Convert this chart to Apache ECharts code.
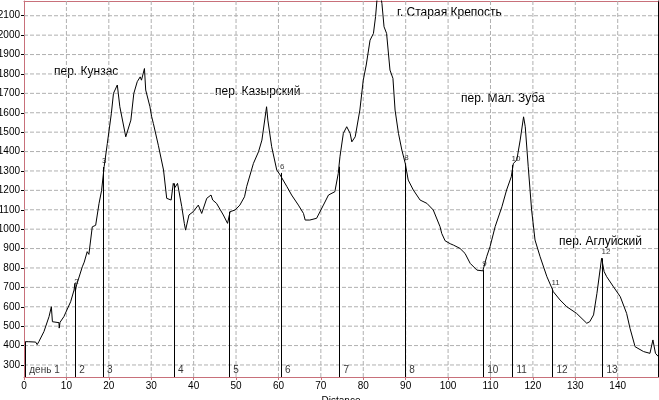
<!DOCTYPE html>
<html>
<head>
<meta charset="utf-8">
<script src="https://cdn.jsdelivr.net/npm/echarts@6/dist/echarts.min.js"></script>
<style>
html,body{margin:0;padding:0;background:#fff;}
#c{width:659px;height:400px;}
</style>
</head>
<body>
<div id="c"></div>
<script>
// Elevation profile: distance (km) and elevation (m)
const distance = [0.3,1.0,2.75,3.1,3.5,4.7,5.9,6.45,6.7,8.25,8.3,8.5,9.4,11.0,11.8,12.0,12.1,12.4,13.75,14.2,14.9,15.3,16.1,16.9,17.7,18.3,18.9,19.65,20.6,21.1,22.0,22.6,24.0,25.2,25.9,26.7,27.4,27.7,28.4,28.7,29.7,30.1,30.5,31.7,32.9,33.65,34.7,35.2,35.6,36.2,37.2,37.8,38.1,38.9,39.9,41.1,41.9,43.1,44.1,44.5,45.4,47.0,48.0,48.6,49.8,50.9,52.0,52.5,54.1,55.3,56.1,57.2,57.5,58.4,59.6,60.4,62.0,63.1,64.7,65.9,66.3,67.4,69.0,69.4,70.6,71.8,73.3,74.1,74.5,75.3,76.1,76.9,77.3,78.1,79.2,80.0,80.7,81.6,82.0,82.4,82.9,83.3,84.0,84.4,84.9,85.5,86.3,87.0,87.5,88.3,89.1,89.9,90.6,91.8,93.4,95.0,96.5,98.1,98.5,99.3,100.5,101.25,102.8,104.0,105.2,106.8,108.2,109.1,109.9,111.1,112.7,113.8,114.9,115.4,116.2,117.0,117.8,118.2,118.9,119.7,120.5,121.7,123.3,124.5,124.8,126.4,128.0,130.3,132.7,133.4,134.3,135.1,136.2,136.8,137.4,139.0,140.6,142.1,142.9,144.1,146.1,147.6,148.3,148.9,149.6];
const elevation = [420,420,418,405,420,472,549,600,523,518,490,520,549,626,686,720,680,712,806,830,884,870,1012,1020,1133,1200,1322,1442,1597,1700,1743,1631,1476,1562,1700,1760,1785,1768,1828,1717,1631,1580,1545,1430,1305,1159,1150,1236,1215,1236,1116,1030,995,1073,1090,1124,1081,1159,1176,1150,1133,1073,1030,1090,1099,1124,1167,1219,1339,1399,1459,1631,1562,1425,1305,1279,1219,1176,1124,1081,1047,1047,1056,1073,1124,1176,1193,1287,1373,1494,1528,1494,1450,1476,1614,1768,1846,1974,1965,2009,2096,2200,2220,2163,2043,2009,1820,1777,1614,1494,1408,1339,1253,1202,1150,1133,1099,1013,978,940,925,918,901,875,824,789,785,858,910,1013,1116,1202,1270,1339,1356,1459,1579,1528,1322,1099,944,858,755,695,678,635,600,566,515,523,558,669,850,781,755,703,652,566,489,394,369,360,429,360,343];

// Day markers
const markerDist  = [0.3, 12.1, 18.6, 35.4, 48.4, 60.6, 74.4, 89.9, 108.3, 115.2, 124.6, 136.4];
const markerElev  = [420, 700, 1320, 1236, 1090, 1290, 1322, 1339, 789, 1330, 695, 850];
const markerDayLabels = ['день 1','2','3','4','5','6','7','8','10','11','12','13'];
const markerTopLabels = ['','2','3','','','6','','8','9','10','11','12'];

// Pass names
const passNames = ['пер. Кунзас','пер. Казырский','г. Старая Крепость','пер. Мал. Зуба','пер. Аглуйский'];

// Axis ticks
const xTicks = [0,10,20,30,40,50,60,70,80,90,100,110,120,130,140];
const yTicks = [300,400,500,600,700,800,900,1000,1100,1200,1300,1400,1500,1600,1700,1800,1900,2000,2100];

const Y_MIN = 238, Y_MAX = 2176, X_MIN = 0, X_MAX = 149.5;
const FONT = 'Liberation Sans, Arial, sans-serif';
const AXIS_RED = '#c8707a';

const chart = echarts.init(document.getElementById('c'), null, {renderer:'canvas'});

const profile = distance.map((d,i)=>[d, elevation[i]]);
const markerStyle = {color:'#000', width:1, type:'solid'};
const markLines = markerDist.map((d,i)=>[{coord:[d, Y_MIN], lineStyle:markerStyle},{coord:[d, markerElev[i]]}]);
const bottomLabels = markerDist.map((d,i)=>({value:[d, Y_MIN], name: markerDayLabels[i]}));
const topLabels = markerDist.map((d,i)=>({value:[d, markerElev[i]], name: markerTopLabels[i]})).filter(p=>p.name);

// grid lines drawn as plain line series through the axes
const gridSeries = xTicks.filter(v=>v>0).map(v=>[[v, Y_MIN],[v, Y_MAX]])
  .concat(yTicks.map(v=>[[X_MIN, v],[X_MAX, v]]))
  .map(pts=>({
    type:'line', data:pts, symbol:'none', showSymbol:false, silent:true, z:1,
    lineStyle:{color:'#b0b0b0', width:1, type:'dashed'}, clip:true
  }));

const passPos = [[54,73],[215,93],[397,14],[461,100],[559,243]];

chart.setOption({
  animation:false,
  backgroundColor:'#fff',
  grid:{left:24, top:1, right:1, bottom:23, containLabel:false, outerBoundsMode:'none'},
  xAxis:[{
    type:'value', min:X_MIN, max:X_MAX,
    name:'Distance', nameLocation:'middle', nameGap:15,
    nameTextStyle:{fontFamily:FONT, fontSize:10, color:'#000'},
    axisLine:{show:true, onZero:false, lineStyle:{color:AXIS_RED, width:1}},
    axisTick:{show:true, length:3, lineStyle:{color:AXIS_RED}, customValues:xTicks},
    axisLabel:{customValues:xTicks, fontFamily:FONT, fontSize:10, color:'#000', margin:4, formatter:v=>String(v)},
    splitLine:{show:false}
  },{
    type:'value', position:'top', min:0, max:1,
    axisLine:{show:true, onZero:false, lineStyle:{color:AXIS_RED}},
    axisTick:{show:false}, axisLabel:{show:false}, splitLine:{show:false}
  }],
  yAxis:[{
    type:'value', min:Y_MIN, max:Y_MAX,
    axisLine:{show:true, onZero:false, lineStyle:{color:AXIS_RED, width:1}},
    axisTick:{show:true, length:3, lineStyle:{color:'#000'}, customValues:yTicks},
    axisLabel:{customValues:yTicks, fontFamily:FONT, fontSize:10, color:'#000', margin:4, formatter:v=>String(v)},
    splitLine:{show:false}
  },{
    type:'value', position:'right', min:0, max:1,
    axisLine:{show:true, onZero:false, lineStyle:{color:'#000'}},
    axisTick:{show:false}, axisLabel:{show:false}, splitLine:{show:false}
  }],
  series: gridSeries.concat([{
    type:'line', data:profile, showSymbol:false, symbol:'none', z:3,
    lineStyle:{color:'#000', width:1}, clip:true,
    markLine:{
      silent:true, symbol:['none','none'], label:{show:false},
      lineStyle:{color:'#000', width:1, type:'solid'},
      data:markLines
    }
  },{
    type:'scatter', data:bottomLabels, symbolSize:0, silent:true, z:4,
    label:{show:true, position:'right', distance:4, offset:[0,-7], formatter:p=>p.name,
      fontFamily:FONT, fontSize:10, color:'#000'}
  },{
    type:'scatter', data:topLabels, symbolSize:0, silent:true, z:4,
    label:{show:true, position:'right', distance:0, offset:[-1,-6], formatter:p=>p.name,
      fontFamily:FONT, fontSize:8, color:'#000'}
  }]),
  graphic: passNames.map((t,i)=>({
    type:'text', left:passPos[i][0], top:passPos[i][1]-7,
    style:{text:t, font:'12px '+FONT, fill:'#000'}
  }))
});
</script>
</body>
</html>
